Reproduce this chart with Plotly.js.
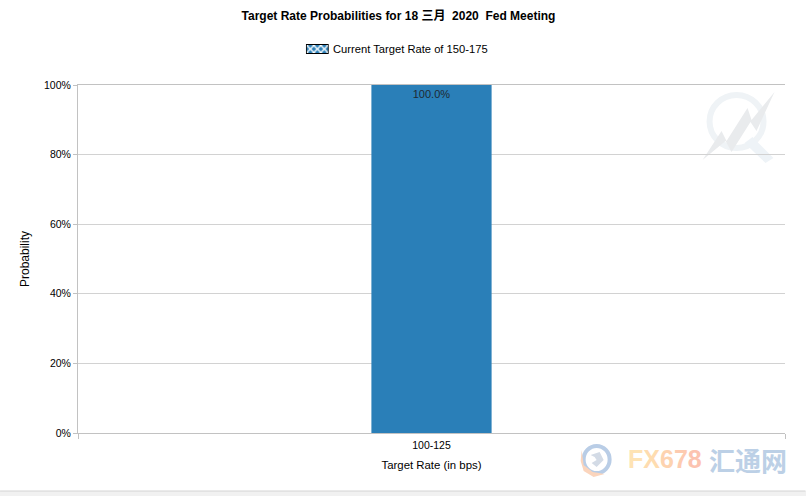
<!DOCTYPE html>
<html><head><meta charset="utf-8">
<script src="https://cdn.plot.ly/plotly-3.0.1.min.js"></script>
<style>html,body{margin:0;padding:0;background:#fff;overflow:hidden}#c{width:806px;height:496px}</style>
</head><body><div id="c"></div>
<script>
const categories = ["100-125"];
const probabilities = [100];
const barLabels = ["100.0%"];
const legendName = "Current Target Rate of 150-175";
const titleText = "Target Rate Probabilities for 18 三月\u00a0 2020\u00a0 Fed Meeting";

const W=806,H=496,L=78,R=785.5,T=85,B=433;
const px=x=>(x-L)/(R-L), py=y=>(B-y)/(B-T);
const poly=(pts)=>"M"+pts.map(p=>px(p[0]).toFixed(4)+","+py(p[1]).toFixed(4)).join("L")+"Z";
const font="Liberation Sans, Arial, 'Noto Sans CJK SC', sans-serif";
const axisGrey="#c2c2c2";

const swatchSvg="<svg xmlns='http://www.w3.org/2000/svg' width='23' height='10'><defs><pattern id='p' width='7' height='7' patternUnits='userSpaceOnUse' x='1' y='1.5'><rect width='7' height='7' fill='#2a7fb8'/><path d='M0,0L7,7M7,0L0,7' stroke='#fff' stroke-width='1.3'/></pattern></defs><rect x='.5' y='.5' width='22' height='9' fill='url(#p)' stroke='#000'/></svg>";

const traces=[
 {type:"bar",x:categories,y:probabilities,text:barLabels,textposition:"inside",insidetextanchor:"end",
  textangle:0,cliponaxis:false,constraintext:"none",
  textfont:{family:font,size:11,color:"#1f2a33"},marker:{color:"#2a7fb8",line:{width:0}},width:0.17,showlegend:false,hoverinfo:"skip"},
 {type:"bar",x:categories,y:[null],name:legendName,showlegend:true,
  marker:{color:"rgba(0,0,0,0)",line:{color:"rgba(0,0,0,0)",width:0}}}
];
const layout={
 width:W,height:H,autosize:false,margin:{l:L,r:W-R,t:T,b:H-B,pad:0},
 paper_bgcolor:"#fff",plot_bgcolor:"rgba(0,0,0,0)",
 font:{family:font,size:11,color:"#000"},
 barmode:"overlay",
 title:{text:"<b>"+titleText+"</b>",font:{family:font,size:12,color:"#000"},x:398.5/W,xanchor:"center",y:1-16/H,yanchor:"middle"},
 legend:{orientation:"h",x:293/W,xanchor:"left",xref:"container",y:1-49/H,yref:"container",yanchor:"middle",font:{size:11.2,color:"#000"},itemwidth:30,bgcolor:"rgba(0,0,0,0)"},
 xaxis:{type:"category",range:[-0.5,0.5],tickson:"boundaries",ticks:"outside",ticklen:5,tickcolor:axisGrey,tickwidth:1,ticklabelstandoff:2,
   showgrid:false,showline:true,linecolor:axisGrey,linewidth:1,mirror:true,tickfont:{size:10.5,color:"#000"},
   title:{text:"Target Rate (in bps)",font:{size:11.4,color:"#000"},standoff:11},automargin:false},
 yaxis:{range:[0,100],tick0:0,dtick:20,ticksuffix:"%",ticks:"outside",ticklen:4,tickcolor:axisGrey,tickwidth:1,
   showgrid:true,gridcolor:"#d2d2d2",gridwidth:1,showline:true,linecolor:axisGrey,linewidth:1,zeroline:false,
   tickfont:{size:10.5,color:"#000"},title:{text:"Probability",font:{size:12,color:"#000"},standoff:11},automargin:false},
 images:[{source:"data:image/svg+xml;utf8,"+encodeURIComponent(swatchSvg),xref:"paper",yref:"paper",x:px(306),y:py(44),sizex:23/(R-L),sizey:10/(B-T),sizing:"stretch",xanchor:"left",yanchor:"top",layer:"above"}],
 shapes:[
  {type:"circle",xref:"paper",yref:"paper",x0:px(710),x1:px(764),y0:py(95),y1:py(148),line:{color:"#eff3f6",width:6},fillcolor:"rgba(0,0,0,0)",layer:"below"},
  {type:"path",xref:"paper",yref:"paper",path:poly([[745,143],[753,137],[774,158],[766,163]]),fillcolor:"#eef3f7",line:{width:0},layer:"below"},
  {type:"path",xref:"paper",yref:"paper",path:poly([[703,160],[722,131],[727,141],[748,108],[752,120],[775,92],[757,131],[751,122],[732,152],[726,141]]),fillcolor:"#e9ebed",line:{width:0},layer:"below"},
  {type:"circle",xref:"paper",yref:"paper",x0:px(584),x1:px(610),y0:py(446),y1:py(473),line:{color:"#b9cde6",width:4},fillcolor:"rgba(0,0,0,0)"},
  {type:"path",xref:"paper",yref:"paper",path:poly([[582,450],[584,465],[593,472],[605,474],[594,477],[584,471],[581,461]]),fillcolor:"#fbd5bd",line:{width:0}},
  {type:"path",xref:"paper",yref:"paper",path:poly([[591,455],[600,452],[604,460],[597,467],[592,463],[597,460],[595,457]]),fillcolor:"#d3dbe6",line:{width:0}},
  {type:"rect",xref:"paper",yref:"paper",x0:px(-2),x1:px(808),y0:py(491),y1:py(498),fillcolor:"#f1f1f1",line:{width:0}},
  {type:"line",xref:"paper",yref:"paper",x0:px(0),x1:px(806),y0:py(491),y1:py(491),line:{color:"#d4d4d4",width:1}}
 ],
 annotations:[
  {xref:"paper",yref:"paper",x:px(626),y:py(459),xanchor:"left",yanchor:"middle",showarrow:false,
   font:{family:"'Liberation Sans', sans-serif",size:25},
   text:"<b><span style='color:#fee3b4'>F</span><span style='color:#fedcb0'>X</span><span style='color:#fdd3b0'>6</span><span style='color:#fdcbb0'>7</span><span style='color:#fcc3b0'>8</span></b>"},
  {xref:"paper",yref:"paper",x:px(707),y:py(459),xanchor:"left",yanchor:"middle",showarrow:false,
   font:{family:"'Noto Sans CJK SC', sans-serif",size:26,color:"#bcd0e6"},text:"<b>汇通网</b>"}
 ]
};
Plotly.newPlot("c",traces,layout,{displayModeBar:false,staticPlot:true});
</script></body></html>
